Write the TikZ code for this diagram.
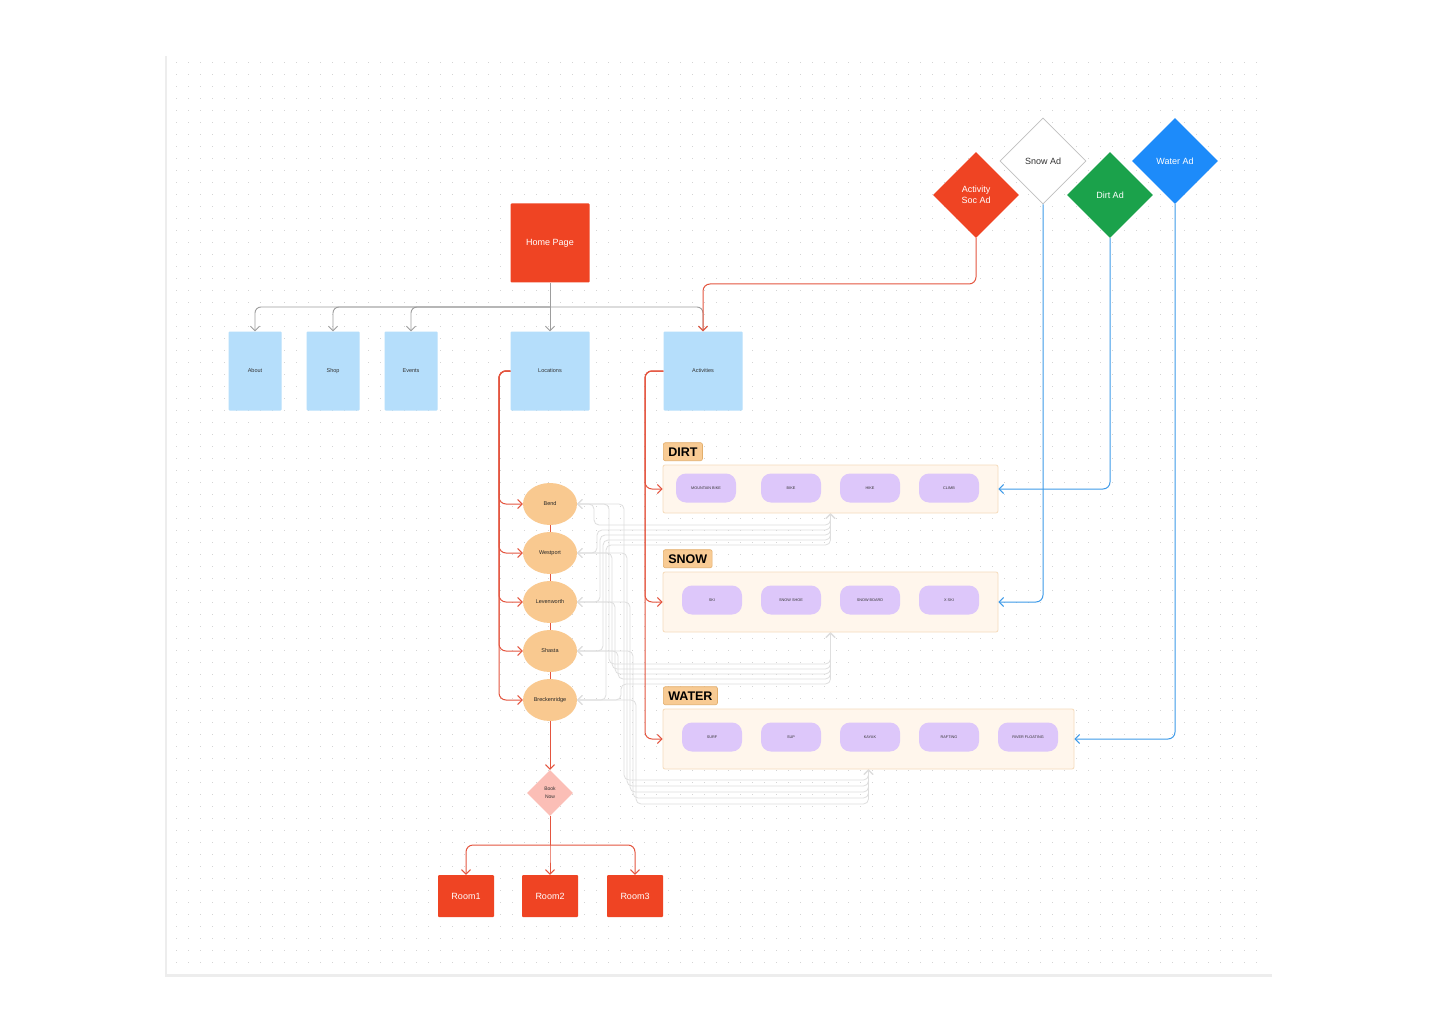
\documentclass[tikz,border=0pt]{standalone}
\usepackage{fontspec}
\setmainfont{Liberation Sans}
\usetikzlibrary{shapes.geometric,backgrounds,arrows.meta}
\definecolor{homered}{HTML}{EF4423}
\definecolor{linered}{HTML}{E4553F}
\definecolor{pagebl}{HTML}{B5DEFB}
\definecolor{locor}{HTML}{F9C990}
\definecolor{pillpu}{HTML}{DDC7FA}
\definecolor{grpbg}{HTML}{FFF6EC}
\definecolor{grpbd}{HTML}{F6DCBD}
\definecolor{tagor}{HTML}{F8CB94}
\definecolor{tagbd}{HTML}{E2AE6C}
\definecolor{adgreen}{HTML}{1BA24B}
\definecolor{adblue}{HTML}{1D8BFA}
\definecolor{lineblue}{HTML}{3D9AE8}
\definecolor{bookpk}{HTML}{FBBEB6}
\definecolor{treegr}{HTML}{9D9D9D}
\definecolor{wiregr}{HTML}{DEDEDE}

\begin{document}
\begin{tikzpicture}[x=1pt,y=-1pt,>={Straight Barb[length=4.5pt,width=9pt]},
	page/.style={rectangle,fill=pagebl,rounded corners=1pt,minimum width=53,minimum height=79,inner sep=0,
		font=\fontsize{5.5}{6}\selectfont,text=black!80},
	widepage/.style={page,minimum width=79},
	redbox/.style={rectangle,fill=homered,rounded corners=1pt,inner sep=0,text=white,font=\fontsize{9}{10}\selectfont},
	addiam/.style={diamond,aspect=1,minimum size=86,inner sep=0,align=center,font=\fontsize{9}{11}\selectfont},
	loc/.style={ellipse,fill=locor,minimum width=54,minimum height=42,inner sep=0,font=\fontsize{5.5}{6}\selectfont,text=black!85},
	grp/.style={rectangle,fill=grpbg,draw=grpbd,line width=0.8pt,rounded corners=2pt,inner sep=0},
	grptag/.style={rectangle,fill=tagor,draw=tagbd,line width=0.6pt,rounded corners=2pt,inner xsep=5pt,inner ysep=0,
		minimum height=18,anchor=south west,font=\fontsize{12.5}{13}\selectfont\bfseries},
	pill/.style={rectangle,fill=pillpu,rounded corners=10pt,minimum width=60,minimum height=29,inner sep=0,
		font=\fontsize{3.8}{4}\selectfont,text=black!80},
	treeline/.style={draw=treegr,line width=0.9pt,rounded corners=6pt},
	redline/.style={draw=linered,line width=1pt,rounded corners=7pt},
	blueline/.style={draw=lineblue,line width=1pt,rounded corners=7pt},
	wire/.style={draw=wiregr,line width=0.8pt,rounded corners=5pt},
	dots/.style={draw=black!17,line width=0.9pt,dash pattern=on 0.9pt off 11.1pt}
	]
	\useasboundingbox (0,0) rectangle (1440,1024);
	\begin{pgfonlayer}{background}
		\fill[white] (0,0) rectangle (1440,1024);
		\fill[black!7] (165,56) rectangle (1272,977);
		\fill[white] (167,53) rectangle (1272,974);
		\foreach \yy in {62,74,...,962}
			\draw[dots] (176,\yy) -- (1262,\yy);
	\end{pgfonlayer}

	% site pages
	\node[redbox,minimum size=79] (home) at (550,243) {Home Page};
	\node[page] (about) at (255,371) {About};
	\node[page] (shop) at (333,371) {Shop};
	\node[page] (events) at (411,371) {Events};
	\node[widepage] (locations) at (550,371) {Locations};
	\node[widepage] (activities) at (703,371) {Activities};

	% ads
	\node[addiam,fill=homered,text=white] (actad) at (976,195) {Activity\\Soc Ad};
	\node[addiam,fill=white,draw=black!25,line width=0.8pt,text=black!80] (snowad) at (1043,161) {Snow Ad};
	\node[addiam,fill=adgreen,text=white] (dirtad) at (1110,195) {Dirt Ad};
	\node[addiam,fill=adblue,text=white] (waterad) at (1175,161) {Water Ad};

	% activity groups
	\node[grp,minimum width=335,minimum height=48] (dirtgrp) at (830.5,489) {};
	\node[grp,minimum width=335,minimum height=60] (snowgrp) at (830.5,602) {};
	\node[grp,minimum width=411,minimum height=60] (watergrp) at (868.5,739) {};
	\node[grptag] (dirttag) at (663,461) {DIRT};
	\node[grptag] (snowtag) at (663,568) {SNOW};
	\node[grptag] (watertag) at (663,705) {WATER};

	\node[pill] (mtb) at (706,488) {MOUNTAIN BIKE};
	\node[pill] (bike) at (791,488) {BIKE};
	\node[pill] (hike) at (870,488) {HIKE};
	\node[pill] (climb) at (949,488) {CLIMB};
	\node[pill] (ski) at (712,600) {SKI};
	\node[pill] (shoe) at (791,600) {SNOW SHOE};
	\node[pill] (board) at (870,600) {SNOW BOARD};
	\node[pill] (xski) at (949,600) {X SKI};
	\node[pill] (surf) at (712,737) {SURF};
	\node[pill] (sup) at (791,737) {SUP};
	\node[pill] (kayak) at (870,737) {KAYAK};
	\node[pill] (raft) at (949,737) {RAFTING};
	\node[pill] (float) at (1028,737) {RIVER FLOATING};

	% locations and booking
	\node[loc] (bend) at (550,504) {Bend};
	\node[loc] (westport) at (550,553) {Westport};
	\node[loc] (levenworth) at (550,602) {Levenworth};
	\node[loc] (shasta) at (550,651) {Shasta};
	\node[loc] (breck) at (550,700) {Breckenridge};
	\node[diamond,aspect=1,fill=bookpk,minimum size=46,inner sep=0,align=center,
		font=\fontsize{5}{8}\selectfont,text=black!80] (booknow) at (550,793) {Book\\Now};
	\node[redbox,minimum width=56,minimum height=42] (room1) at (466,896) {Room1};
	\node[redbox,minimum width=56,minimum height=42] (room2) at (550,896) {Room2};
	\node[redbox,minimum width=56,minimum height=42] (room3) at (635,896) {Room3};

	\coordinate (hub) at (550,307);
	\coordinate (actjoin) at (703,284);
	\coordinate (locbus) at (499,450);
	\coordinate (actbus) at (645,450);
	\coordinate (roomhub) at (550,845);

	\draw[treeline] (home.south) -- (hub);
	\foreach \p in {about,shop,events,activities}
		\draw[treeline,->] (hub) -| (\p.north);
	\draw[treeline,->] (hub) -- (locations.north);

	\draw[redline,->] (actad.south) |- (actjoin) -- (activities.north);
	\draw[blueline,->] (snowad.south) |- (snowgrp.east);
	\draw[blueline,->] (dirtad.south) |- (dirtgrp.east);
	\draw[blueline,->] (waterad.south) |- (watergrp.east);

	\foreach \g in {dirtgrp,snowgrp,watergrp}
		\draw[redline,->] (activities.west) -| (actbus) |- (\g.west);
	\foreach \l in {bend,westport,levenworth,shasta,breck}
		\draw[redline,->] (locations.west) -| (locbus) |- (\l.west);
	\foreach \a/\b in {bend/westport,westport/levenworth,levenworth/shasta,shasta/breck}
		\draw[linered,line width=0.8pt] (\a) -- (\b);

	\draw[redline,->] (breck) -- (booknow);
	\draw[redline] (booknow) -- (roomhub);
	\foreach \r in {room1,room2,room3}
		\draw[redline,->] (roomhub) -| (\r.north);

	% grey links from locations to the groups
	\begin{pgfonlayer}{background}
		\foreach \l/\y [count=\i from 0] in {bend/504,westport/553,levenworth/602,shasta/651,breck/700}
			\foreach \g/\ya/\dy [count=\j from 0] in {dirtgrp/525/5,snowgrp/664/5,watergrp/780/6} {
				\pgfmathsetmacro\xv{594+3*\i+15*\j}
				\pgfmathsetmacro\yh{\ya+\dy*\i}
				\draw[wire,<->] (\l.east) -| (\xv,\yh) -| (\g.south);
			}
	\end{pgfonlayer}
\end{tikzpicture}
\end{document}
